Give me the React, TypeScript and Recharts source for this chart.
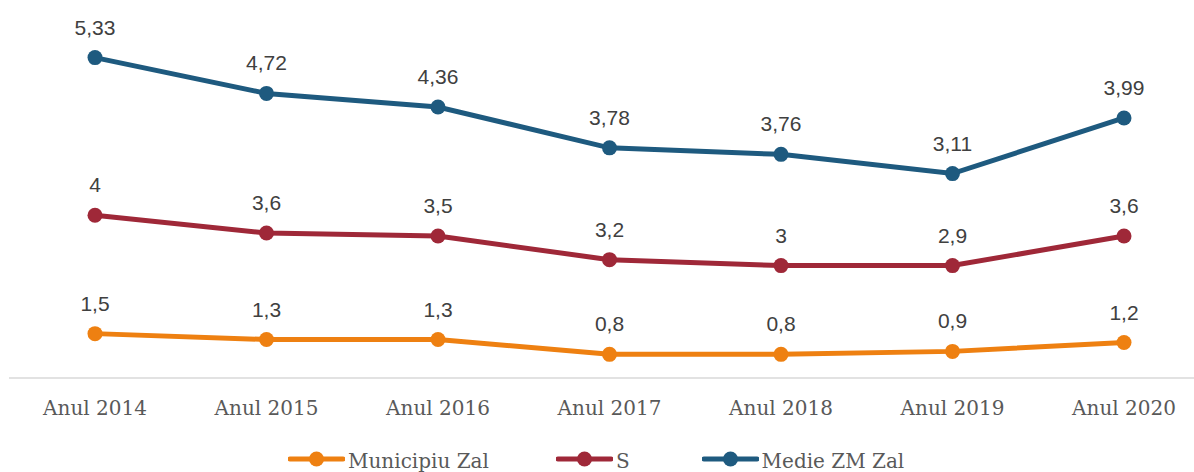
import { LineChart, Line, XAxis, YAxis, Legend, LabelList } from 'recharts';

const years = ['Anul 2014', 'Anul 2015', 'Anul 2016', 'Anul 2017', 'Anul 2018', 'Anul 2019', 'Anul 2020'];
const municipiu = [1.5, 1.3, 1.3, 0.8, 0.8, 0.9, 1.2];
const sValues = [4, 3.6, 3.5, 3.2, 3, 2.9, 3.6];
const medie = [5.33, 4.72, 4.36, 3.78, 3.76, 3.11, 3.99];

const ORANGE = '#EE8011';
const RED = '#9F2838';
const BLUE = '#1E5A7F';

// stacked line chart: each series is drawn on top of the previous ones
const data = years.map((name, i) => ({
  name,
  municipiu: municipiu[i],
  s: sValues[i],
  medie: medie[i],
  municipiuTop: municipiu[i],
  sTop: municipiu[i] + sValues[i],
  medieTop: municipiu[i] + sValues[i] + medie[i],
}));

const legendItems = [
  { label: 'Municipiu Zal', color: ORANGE, gap: 0 },
  { label: 'S', color: RED, gap: 67 },
  { label: 'Medie ZM Zal', color: BLUE, gap: 72 },
];

const renderValue = (props: any) => {
  const { x, y, value } = props;
  return (
    <text
      x={x}
      y={y - 23}
      textAnchor="middle"
      fill="#404040"
      fontSize={21}
      fontFamily="'Liberation Sans', Arial, sans-serif"
    >
      {String(value).replace('.', ',')}
    </text>
  );
};

const renderLegend = () => (
  <div style={{ display: 'flex', alignItems: 'flex-start', paddingLeft: 288 }}>
    {legendItems.map((item) => (
      <div key={item.label} style={{ display: 'flex', alignItems: 'flex-start', marginLeft: item.gap }}>
        <svg width={57} height={22}>
          <line x1={2} y1={11} x2={55} y2={11} stroke={item.color} strokeWidth={5} strokeLinecap="round" />
          <circle cx={28.5} cy={11} r={7.5} fill={item.color} />
        </svg>
        <span
          style={{
            marginLeft: 3,
            fontFamily: "'DejaVu Serif', serif",
            fontSize: 20,
            lineHeight: '26px',
            color: '#595959',
            whiteSpace: 'nowrap',
          }}
        >
          {item.label}
        </span>
      </div>
    ))}
  </div>
);

export default function App() {
  return (
    <div style={{ position: 'absolute', left: 0, top: 0, width: 1194, height: 472, overflow: 'hidden', background: '#fff' }}>
      <LineChart width={1194} height={472} data={data} margin={{ top: 23, right: 0, left: 9, bottom: 54 }}>
        <XAxis
          dataKey="name"
          height={40}
          padding={{ left: 86, right: 70 }}
          axisLine={{ stroke: '#D9D9D9', strokeWidth: 1.5 }}
          tickLine={false}
          tickSize={0}
          tickMargin={23}
          tick={{ fill: '#595959', fontSize: 20, fontFamily: "'DejaVu Serif', serif" }}
          interval={0}
        />
        <YAxis hide domain={[0, 12]} />
        <Legend
          verticalAlign="middle"
          align="center"
          content={renderLegend}
          wrapperStyle={{ top: 448, left: 0, width: 1194, height: 26 }}
        />
        <Line
          type="linear"
          dataKey="municipiuTop"
          stroke={ORANGE}
          strokeWidth={5}
          dot={{ r: 7.5, fill: ORANGE, stroke: ORANGE, strokeWidth: 0 }}
          isAnimationActive={false}
        >
          <LabelList dataKey="municipiu" content={renderValue} />
        </Line>
        <Line
          type="linear"
          dataKey="sTop"
          stroke={RED}
          strokeWidth={5}
          dot={{ r: 7.5, fill: RED, stroke: RED, strokeWidth: 0 }}
          isAnimationActive={false}
        >
          <LabelList dataKey="s" content={renderValue} />
        </Line>
        <Line
          type="linear"
          dataKey="medieTop"
          stroke={BLUE}
          strokeWidth={5}
          dot={{ r: 7.5, fill: BLUE, stroke: BLUE, strokeWidth: 0 }}
          isAnimationActive={false}
        >
          <LabelList dataKey="medie" content={renderValue} />
        </Line>
      </LineChart>
    </div>
  );
}
